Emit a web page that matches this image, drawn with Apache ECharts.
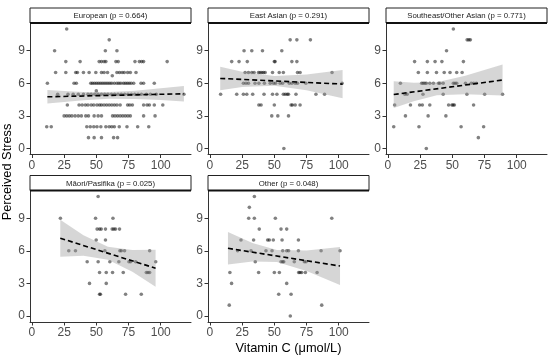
<!DOCTYPE html>
<html>
<head>
<meta charset="utf-8">
<script src="https://cdn.jsdelivr.net/npm/echarts@6/dist/echarts.min.js"></script>
<style>
html,body{margin:0;padding:0;background:#fff;}
#chart{width:550px;height:361px;}
</style>
</head>
<body>
<div id="chart"></div>
<script>
// ---------- DATA ----------
const xTicks = [0, 25, 50, 75, 100];
const yTicks = [0, 3, 6, 9];
const panelTitles = ['European (p = 0.664)', 'East Asian (p = 0.291)', 'Southeast/Other Asian (p = 0.771)', 'Māori/Pasifika (p = 0.025)', 'Other (p = 0.048)'];

// rows: [perceived stress, [vitamin C values ...]]
const europeanRows = [
  [11, [27]],
  [10, [60]],
  [9, [17.6, 57, 66]],
  [8, [26.3, 37.4, 52.2, 54, 56, 57.4, 65.2, 67, 80, 83.4, 85.2, 86.7, 105]],
  [7, [18.4, 26.3, 34, 35.3, 40, 44.4, 49.6, 54, 56, 58.7, 66, 68, 70, 71.7, 74.3, 76.4, 80.8]],
  [6.7, [62.4]],
  [6, [12, 32.7, 34.5, 45.7, 47, 48.5, 50, 51.5, 53, 54.5, 56, 57.5, 59, 60.5, 62, 64, 66, 67.5, 69, 71, 72.5, 74, 75.5, 77, 79, 84.7, 86.7, 95]],
  [5.3, [50]],
  [5, [20, 28, 32, 36, 40, 43.5, 46, 48.7, 51.3, 54, 56.5, 59, 61.7, 64.2, 66.8, 69.4, 72, 74.6, 77.2, 79.8, 82.4, 85, 88.9, 92, 96.6, 118]],
  [4, [27.5, 36.6, 39, 41.5, 43.5, 46, 48, 50.5, 52.5, 54, 56, 58, 60, 62, 64, 66, 68.5, 74.3, 76, 78, 86.7, 89.4, 91.2, 95, 101.6]],
  [3, [25, 27, 29, 31, 33.5, 36, 38.4, 41.8, 43.9, 48.3, 51.4, 54, 62.6, 64.5, 66.5, 68.5, 70.5, 72.5, 74.5, 76.4, 86.7, 95.6]],
  [2, [11.5, 15, 42.6, 45.3, 48, 50.5, 53.5, 57.4, 60, 62, 64, 67.8, 73.8, 82.1, 90.7]],
  [1, [43.9, 48.3, 54, 63.4, 66.5]]
];
const eastAsianRows = [
  [10, [62.3, 67.5, 78]],
  [9, [26.5, 32.5, 40.8, 55.8]],
  [8, [16.9, 22.6, 29, 50, 50.6, 63.6, 67.5]],
  [7, [27.3, 29.9, 32.5, 34.3, 37.7, 39, 40.3, 41.6, 42.9, 48.6, 53.8, 57, 68, 70, 94.8]],
  [6, [26, 28, 29.9, 35, 38, 42.3, 46.8, 49.4, 51, 54.5, 56.4, 61.6, 63.6, 66.2, 68, 74.5, 102.6]],
  [5, [8.3, 20.8, 26, 28.6, 33.2, 42, 48.6, 52, 57, 58.5, 60, 61, 66.8, 82.3, 89]],
  [4, [38, 39.7, 50, 63, 64, 66.2, 70]],
  [3, [48, 52.7, 61]],
  [0, [57.4]]
];
const seAsianRows = [
  [11, [50.8]],
  [10, [61.5, 62.8, 64]],
  [9, [45.5]],
  [8, [20.7, 30.6, 36.6, 41.9, 58.6]],
  [7, [23.6, 30.6, 37.7, 43.7, 48.2, 53.4, 57.6]],
  [6, [9.7, 26.2, 27.4, 28.6, 29.8, 32.5, 35.3, 39.3, 40.3, 42.9, 50.8, 52.1, 53.4, 60.2, 64.7, 66.6, 68.6]],
  [5, [13.1, 14.9, 27.2, 42.9, 61.3, 75.1, 89]],
  [4, [5.2, 17.5, 24.6, 26.7, 32.5, 47.1, 49.7, 50.6, 51.6, 66.5]],
  [3, [13.6, 31.2, 45]],
  [2, [4.5, 24.1, 56.8, 74.3]],
  [1, [70.2]],
  [0, [29.8]]
];
const maoriRows = [
  [11, [51.4]],
  [9, [22.1, 49.4, 62.9]],
  [8, [50.6, 52.5, 53.8, 57.1, 62.3, 63.6, 64.9, 68]],
  [7, [49.9, 57.1]],
  [6, [28.6, 33.8, 56.6, 68.3, 69.4, 71.9, 91.4]],
  [5, [42.9, 51.4, 60.5, 67.5, 75.3, 76.6, 80.5, 96.1]],
  [4, [52.5, 57.7, 62.6, 70.9, 88.8, 90.1, 91.4]],
  [3, [44.7, 57.7]],
  [2, [52.5, 53.2, 72.7, 84.9]]
];
const otherRows = [
  [11, [34.5]],
  [10, [30.6]],
  [9, [30.1, 34.5, 50.8, 94.6]],
  [8, [38.3, 55.2, 59.6]],
  [7, [24.1, 33.9, 44.8, 46.1, 49.2, 56, 68.7]],
  [6, [21.5, 31.9, 43.5, 48.2, 56.5, 59.6, 61.1, 68.7, 86.3, 101]],
  [5, [35.2, 55.2, 56.5, 57.3, 65.5, 73.3, 74.6]],
  [4, [15.5, 37.8, 50, 53.9, 68.9, 69.9, 71.2, 74.1, 83.2]],
  [3, [16.8, 59.6]],
  [2, [53.4, 63]],
  [1, [15, 86.8]],
  [0, [62.4]]
];

// fitted lines
const europeanFitX = [12, 118], europeanFitY = [4.76, 5.04];
const eastAsianFitX = [8, 103], eastAsianFitY = [6.45, 5.93];
const seAsianFitX = [4.5, 89], seAsianFitY = [4.97, 6.3];
const maoriFitX = [22, 96], maoriFitY = [7.16, 4.4];
const otherFitX = [14, 101], otherFitY = [6.23, 4.6];

// confidence bands
const europeanBandX = [12, 25, 40, 60, 80, 100, 118];
const europeanBandLo = [4.14, 4.29, 4.45, 4.59, 4.56, 4.46, 4.32];
const europeanBandHi = [5.38, 5.29, 5.21, 5.19, 5.32, 5.54, 5.76];
const eastAsianBandX = [8, 25, 50, 75, 103];
const eastAsianBandLo = [5.37, 5.66, 5.77, 5.36, 4.63];
const eastAsianBandHi = [7.53, 7.06, 6.67, 6.8, 7.23];
const seAsianBandX = [4.5, 20, 38, 60, 89];
const seAsianBandLo = [3.74, 4.36, 4.9, 4.99, 4.87];
const seAsianBandHi = [6.2, 6.06, 6.1, 6.69, 7.73];
const maoriBandX = [22, 40, 59, 78, 96];
const maoriBandLo = [5.46, 5.54, 5.18, 4.07, 2.7];
const maoriBandHi = [8.86, 7.44, 6.38, 6.07, 6.1];
const otherBandX = [14, 33, 52, 75, 101];
const otherBandLo = [4.73, 5.02, 4.97, 4.14, 2.85];
const otherBandHi = [7.73, 6.72, 6.07, 6.04, 6.35];

// ---------- BUILD ----------
function rowsToPoints(rows) {
  const pts = [];
  rows.forEach(function (r) { r[1].forEach(function (x) { pts.push([x, r[0]]); }); });
  return pts;
}
const panels = [
  { rows: europeanRows, fx: europeanFitX, fy: europeanFitY, bx: europeanBandX, blo: europeanBandLo, bhi: europeanBandHi },
  { rows: eastAsianRows, fx: eastAsianFitX, fy: eastAsianFitY, bx: eastAsianBandX, blo: eastAsianBandLo, bhi: eastAsianBandHi },
  { rows: seAsianRows, fx: seAsianFitX, fy: seAsianFitY, bx: seAsianBandX, blo: seAsianBandLo, bhi: seAsianBandHi },
  { rows: maoriRows, fx: maoriFitX, fy: maoriFitY, bx: maoriBandX, blo: maoriBandLo, bhi: maoriBandHi },
  { rows: otherRows, fx: otherFitX, fy: otherFitY, bx: otherBandX, blo: otherBandLo, bhi: otherBandHi }
];

const FONT = '"Liberation Sans", Arial, sans-serif';
const colLeft = [30, 208, 386];
const panelW = 161;
const rowTop = [23, 190.5];
const panelH = 131.5;
const stripH = 15;

const grids = [], xAxes = [], yAxes = [], series = [], graphics = [];
panels.forEach(function (p, i) {
  const c = i % 3, r = Math.floor(i / 3);
  grids.push({ left: colLeft[c], top: rowTop[r], width: panelW, height: panelH, containLabel: false, outerBoundsMode: 'none' });
  xAxes.push({
    type: 'value', gridIndex: i, min: -1.5, max: 123.5,
    axisLine: { show: true, onZero: false, lineStyle: { color: '#333', width: 1 } },
    axisTick: { show: true, length: 3.5, customValues: xTicks, lineStyle: { color: '#333' } },
    axisLabel: { customValues: xTicks, color: '#4d4d4d', fontSize: 12, margin: 5, fontFamily: FONT },
    splitLine: { show: false }
  });
  yAxes.push({
    type: 'value', gridIndex: i, min: -0.55, max: 11.55,
    axisLine: { show: true, onZero: false, lineStyle: { color: '#333', width: 1 } },
    axisTick: { show: true, length: 3.5, customValues: yTicks, lineStyle: { color: '#333' } },
    axisLabel: { customValues: yTicks, color: '#4d4d4d', fontSize: 12, margin: 5, fontFamily: FONT },
    splitLine: { show: false }
  });
  series.push({
    type: 'scatter', xAxisIndex: i, yAxisIndex: i, z: 2,
    data: rowsToPoints(p.rows), symbolSize: 3.6,
    itemStyle: { color: 'rgba(0,0,0,0.62)' }, silent: true
  });
  series.push({
    type: 'custom', xAxisIndex: i, yAxisIndex: i, z: 3, silent: true,
    data: [[p.bx[0], p.blo[0]]],
    renderItem: function (params, api) {
      const pts = [];
      for (let k = 0; k < p.bx.length; k++) pts.push(api.coord([p.bx[k], p.bhi[k]]));
      for (let k = p.bx.length - 1; k >= 0; k--) pts.push(api.coord([p.bx[k], p.blo[k]]));
      return { type: 'polygon', shape: { points: pts }, style: { fill: 'rgba(153,153,153,0.4)', stroke: null } };
    }
  });
  series.push({
    type: 'line', xAxisIndex: i, yAxisIndex: i, z: 4, silent: true,
    data: p.fx.map(function (x, k) { return [x, p.fy[k]]; }),
    showSymbol: false, symbol: 'none',
    lineStyle: { color: '#000', width: 1.6, type: [5, 3] }
  });
  const sx = colLeft[c], sy = rowTop[r] - stripH;
  graphics.push({
    type: 'rect', shape: { x: sx, y: sy, width: panelW, height: stripH },
    style: { fill: '#fff', stroke: '#222', lineWidth: 1 }, z: 10
  });
  graphics.push({
    type: 'line', shape: { x1: sx, y1: sy + stripH, x2: sx + panelW, y2: sy + stripH },
    style: { stroke: '#111', lineWidth: 1.8 }, z: 11
  });
  graphics.push({
    type: 'text', x: sx + panelW / 2, y: sy + stripH / 2 + 0.5, z: 12,
    style: { text: panelTitles[i], fontSize: 7.8, fontFamily: FONT, fill: '#1a1a1a', textAlign: 'center', textVerticalAlign: 'middle' }
  });
});
graphics.push({
  type: 'text', x: 288.5, y: 348, z: 12,
  style: { text: 'Vitamin C (μmol/L)', fontSize: 12.8, fontFamily: FONT, fill: '#000', textAlign: 'center', textVerticalAlign: 'middle' }
});
graphics.push({
  type: 'text', x: 7, y: 172, rotation: Math.PI / 2, z: 12,
  style: { text: 'Perceived Stress', fontSize: 12.8, fontFamily: FONT, fill: '#000', textAlign: 'center', textVerticalAlign: 'middle' }
});

const chart = echarts.init(document.getElementById('chart'), null, { renderer: 'canvas' });
chart.setOption({
  backgroundColor: '#fff',
  animation: false,
  grid: grids, xAxis: xAxes, yAxis: yAxes, series: series, graphic: graphics
});
</script>
</body>
</html>
